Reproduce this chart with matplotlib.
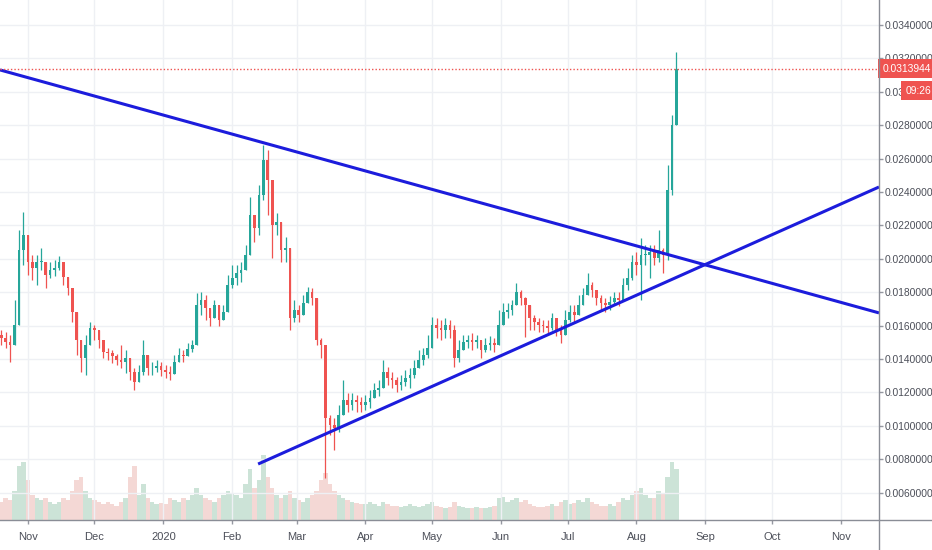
import numpy as np
import pandas as pd
import matplotlib
matplotlib.use("Agg")
import matplotlib.pyplot as plt
import matplotlib.dates as mdates
import matplotlib.transforms as mtrans
from matplotlib.lines import Line2D

# ---------------- data (prices in units of 1e-4) ----------------
start_date = "2019-10-20"          # 2-day candles
first_open_e4 = 154.3
close_e4 = [152.5,150.1,148.3,160.3,205.3,214.3,198.1,194.5,198.1,198.1,
            190.3,193.3,194.5,198.1,189.1,182.5,168.1,151.3,140.5,148.3,
            158.5,157.3,151.3,144.1,143.5,141.7,139.3,138.1,140.5,132.1,
            126.1,132.1,142.3,134.5,134.5,135.7,133.3,132.1,130.9,138.1,
            142.3,141.7,145.9,148.3,172.3,175.3,170.5,164.5,172.3,163.3,
            168.1,184.3,188.5,191.5,193.3,202.3,226.3,218.5,238.3,259.3,
            247.3,220.3,222.1,205.3,206.5,164.5,169.3,166.3,173.5,180.1,
            176.5,151.3,148.3,104.5,100.3,98.5,106.3,115.3,112.3,115.3,
            114.1,112.3,114.1,116.5,121.3,122.5,132.1,128.5,127.3,124.3,
            126.1,128.5,130.3,134.5,139.3,142.3,146.5,160.3,158.5,157.3,
            160.3,157.3,140.5,145.3,150.1,151.3,150.1,151.3,145.3,148.3,
            149.5,148.3,160.3,168.1,169.3,172.3,180.1,176.5,172.3,164.5,
            162.1,160.3,159.7,158.5,164.5,157.3,154.3,163.3,168.1,166.3,
            172.3,178.3,184.3,181.3,176.5,173.5,172.3,174.1,176.5,175.3,
            184.3,188.5,198.1,196.3,202.3,202.3,204.1,200.5,205.3,202.3,
            241.3,280.3,313.944]
high_e4 = [157.3,156.1,154.3,175.3,217.3,228.1,214.3,202.3,202.3,206.5,
           198.1,198.1,199.3,201.7,196.3,187.3,175.3,160.3,148.3,154.3,
           162.1,160.3,157.3,149.5,146.5,145.3,142.9,148.3,145.3,138.1,
           134.5,136.3,151.3,142.3,138.1,139.3,138.1,136.3,135.7,142.3,
           146.5,145.3,149.5,151.3,179.5,180.1,178.3,170.5,175.3,169.3,
           172.3,190.3,196.3,196.3,198.1,208.3,237.1,226.3,244.3,268.3,
           265.3,235.3,227.5,216.1,213.1,202.3,175.3,172.3,178.3,183.1,
           182.5,172.3,152.5,145.3,106.3,104.5,112.3,127.3,119.5,119.5,
           118.3,117.1,118.3,121.3,125.5,127.3,139.3,135.1,132.1,129.1,
           130.3,133.3,134.5,139.3,145.3,146.5,154.3,165.1,164.5,163.3,
           164.5,163.3,160.3,151.3,154.3,154.3,155.5,154.3,151.3,152.5,
           153.7,152.5,169.3,173.5,173.5,175.3,185.5,181.3,177.1,169.3,
           166.3,164.5,163.3,163.3,167.5,163.3,160.3,169.3,172.3,172.3,
           178.3,182.5,191.5,186.1,181.3,178.3,176.5,177.7,180.1,180.1,
           188.5,194.5,202.3,204.1,212.5,208.3,208.3,208.3,217.3,206.5,
           256.3,286.3,324.1]
low_e4 = [148.3,146.5,138.1,148.3,163.3,196.3,190.3,187.3,184.3,193.3,
          182.5,188.5,189.7,193.3,184.3,178.3,162.1,142.3,132.1,130.3,
          151.3,151.3,146.5,140.5,139.3,137.5,136.3,134.5,131.5,127.3,
          121.3,127.3,130.3,130.3,130.3,132.1,129.7,128.5,127.3,132.1,
          138.1,138.1,142.3,144.1,151.3,166.3,163.3,159.7,164.5,159.7,
          163.3,169.3,182.5,184.3,186.1,194.5,211.3,210.1,214.3,235.3,
          226.3,200.5,214.3,198.1,198.1,157.3,162.1,162.1,166.3,174.1,
          172.3,148.3,140.5,68.5,94.3,85.3,96.1,107.5,108.1,109.3,
          108.1,108.1,109.3,110.5,116.5,117.7,126.1,124.3,122.5,120.1,
          121.3,123.7,122.5,128.5,134.5,136.3,140.5,151.3,152.5,151.3,
          152.5,152.5,135.1,138.1,145.3,146.5,145.3,146.5,140.5,144.1,
          145.3,144.1,148.3,160.3,164.5,166.3,172.3,172.3,153.1,157.3,
          157.3,156.1,156.1,155.5,157.3,153.7,149.5,157.3,162.1,162.1,
          166.3,173.5,178.3,177.1,172.3,169.3,168.1,169.3,172.3,171.7,
          175.3,181.3,187.3,190.3,175.3,196.3,188.5,196.3,198.1,191.5,
          199.3,238.3,280.3]
volume_k = [25,30,28,40,75,80,55,35,30,28,
            30,25,22,25,30,28,40,55,60,40,
            30,28,25,22,25,22,20,25,30,60,
            75,35,50,30,25,22,24,22,30,28,
            25,30,28,35,45,35,30,28,25,30,
            35,40,38,35,30,50,70,45,55,90,
            60,45,35,30,35,40,30,28,25,30,
            35,40,55,65,50,40,35,30,28,25,
            24,22,22,25,22,20,25,22,20,20,
            18,20,22,20,18,20,22,25,20,18,
            17,18,25,20,18,17,16,18,17,16,
            18,20,30,32,25,28,30,25,28,22,
            20,18,18,20,22,20,25,28,22,24,
            28,25,30,25,22,20,20,22,20,25,
            30,28,35,40,45,35,30,30,40,38,
            60,80,70]

# trendlines (date, price)
desc_line = [("2019-10-19 11:00", 0.03131), ("2020-11-18 05:00", 0.01676)]
asc_line = [("2020-02-12 16:00", 0.00771), ("2020-11-18 05:00", 0.02430)]

last_price_label = "0.0313944"
timer_label = "09:26"
month_starts = pd.date_range("2019-11-01", periods=13, freq="MS")
month_labels = ["Nov", "Dec", "2020", "Feb", "Mar", "Apr", "May", "Jun",
                "Jul", "Aug", "Sep", "Oct", "Nov"]
price_ticks = [0.006, 0.008, 0.010, 0.012, 0.014, 0.016, 0.018, 0.020,
               0.022, 0.024, 0.026, 0.028, 0.030, 0.032, 0.034]

# ---------------- prepare ----------------
dates = pd.date_range(start_date, periods=len(close_e4), freq="2D")
x = mdates.date2num(dates)
close = np.array(close_e4) * 1e-4
opens = np.concatenate([[first_open_e4 * 1e-4], close[:-1]])
high = np.maximum.reduce([np.array(high_e4) * 1e-4, opens, close])
low = np.minimum.reduce([np.array(low_e4) * 1e-4, opens, close])
up = close >= opens
UP, DOWN = "#26a69a", "#ef5350"
colors = np.where(up, UP, DOWN)
vol_colors = np.where(up, "#8fc2a8", "#e8a9a3")

FONT = ["Liberation Sans", "DejaVu Sans"]
FS = 7.4

fig = plt.figure(figsize=(9.32, 5.5), dpi=100)
ax = fig.add_axes([0, 30 / 550, 879 / 932, 520 / 550])
vax = ax.twinx()
ax.set_zorder(vax.get_zorder() + 1)
ax.patch.set_visible(False)

xmin = mdates.date2num(pd.Timestamp("2019-10-19 11:00"))
xmax = mdates.date2num(pd.Timestamp("2020-11-18 05:00"))
ax.set_xlim(xmin, xmax)
ax.set_ylim(0.004359, 0.035497)

# volume
vax.bar(x, volume_k, width=2.0, color=vol_colors, alpha=0.45, linewidth=0)
vax.set_ylim(0, max(volume_k) * 8.0)
vax.set_xlim(xmin, xmax)
vax.axis("off")

# grid
for p in price_ticks:
    ax.axhline(p, color="#eef0f4", lw=1, zorder=0)
for d in month_starts:
    ax.axvline(mdates.date2num(d), color="#eef0f4", lw=1, zorder=0)

# candles
ax.vlines(x, low, high, colors=colors, lw=0.9, zorder=2)
body_h = np.maximum(np.abs(close - opens), 0.00003)
ax.bar(x, body_h, bottom=np.minimum(opens, close), width=1.2,
       color=colors, linewidth=0, zorder=3)

# trendlines
for line in (desc_line, asc_line):
    xs = [mdates.date2num(pd.Timestamp(d)) for d, _ in line]
    ys = [p for _, p in line]
    ax.plot(xs, ys, color="#1c1cdc", lw=2.2, zorder=4, solid_capstyle="butt")

# last price dotted line
ax.axhline(close[-1], color=DOWN, lw=1, ls=(0, (1, 1.5)), zorder=4)

# axes styling
for s in ax.spines.values():
    s.set_visible(False)
ax.yaxis.tick_right()
ax.set_yticks(price_ticks)
ax.set_yticklabels([f"{p:.7f}" for p in price_ticks])
ax.set_xticks(mdates.date2num(month_starts))
ax.set_xticklabels(month_labels)
for lab in ax.get_yticklabels() + ax.get_xticklabels():
    lab.set_fontfamily(FONT)
    lab.set_fontsize(FS)
    lab.set_color("#4c4f59")
for lab in ax.get_xticklabels():
    lab.set_fontsize(8)
ax.tick_params(axis="y", direction="out", length=3, width=1,
               color="#9598a1", pad=1)
ax.tick_params(axis="x", direction="out", length=3, width=1,
               color="#9598a1", pad=6)

# frame lines (price axis / time axis)
fig.add_artist(Line2D([879 / 932, 879 / 932], [0, 1], color="#8a8d96", lw=1,
                      transform=fig.transFigure))
fig.add_artist(Line2D([0, 1], [30 / 550, 30 / 550], color="#8a8d96", lw=1,
                      transform=fig.transFigure))

# price label and timer
trans = mtrans.blended_transform_factory(ax.transAxes, ax.transData)
ax.annotate(last_price_label, xy=(1.0, close[-1]), xycoords=trans,
            xytext=(2.9, 0), textcoords="offset points", ha="left",
            va="center", color="white", fontsize=FS, family=FONT,
            bbox=dict(boxstyle="square,pad=0.45", fc=DOWN, ec="none"),
            annotation_clip=False, zorder=10)
ax.annotate(timer_label, xy=(1.0, close[-1]), xycoords=trans,
            xytext=(19.5, -16), textcoords="offset points", ha="left",
            va="center", color="white", fontsize=FS, family=FONT,
            bbox=dict(boxstyle="square,pad=0.45", fc=DOWN, ec="none"),
            annotation_clip=False, zorder=10)

fig.savefig("out.png", dpi=100)
